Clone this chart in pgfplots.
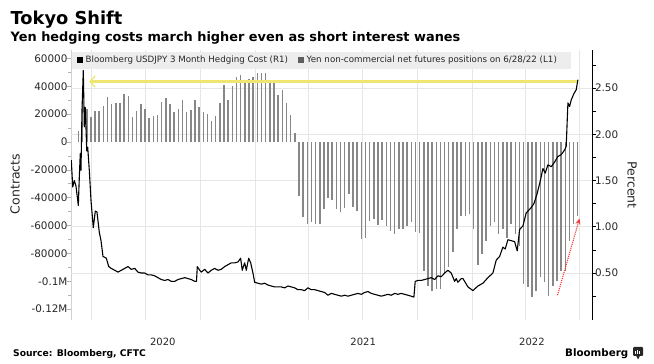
\documentclass[border=0pt]{standalone}
\usepackage{fontspec}
\setmainfont{DejaVu Sans}
\usepackage{pgfplots}
\usepackage{pgfplotstable}
\pgfplotsset{compat=1.18}
\usetikzlibrary{arrows.meta}

\definecolor{bargray}{HTML}{878787}
\definecolor{gridgray}{HTML}{E6E6E6}
\definecolor{legbg}{HTML}{EDEDED}
\definecolor{arrowyellow}{HTML}{EFE672}
\definecolor{arrowred}{HTML}{EE3B3B}

% Yen non-commercial net futures positions (contracts), weekly; day = days since 2020-01-01
\pgfplotstableread{
day val
69 8200
76 32000
83 23500
90 18200
97 22000
104 22000
111 26000
118 32000
125 27000
132 27800
139 27800
146 34600
153 33000
160 17600
167 22400
174 27500
181 23500
188 17200
195 18800
202 19300
209 28700
216 31300
223 27000
230 21200
237 23500
244 29900
251 21900
258 22800
265 29900
272 25200
279 21200
286 20000
293 14800
300 18800
307 28200
314 41200
321 29900
328 40000
335 47000
342 47800
349 43500
356 45400
363 47000
370 49400
377 49700
384 49400
391 44200
398 44000
405 34100
412 37000
419 28200
426 19300
433 6400
440 -38500
447 -53500
454 -58800
461 -57800
468 -58700
475 -59000
482 -47800
489 -40400
496 -41800
503 -47800
510 -50200
517 -47100
524 -37500
531 -46600
538 -49500
545 -69800
552 -68600
559 -56600
566 -55400
573 -59500
580 -56200
587 -60200
594 -63800
601 -66200
608 -62600
615 -62600
622 -60200
629 -57300
636 -64500
643 -65000
650 -92500
657 -103200
664 -106800
671 -105600
678 -105600
685 -94900
692 -89600
699 -79300
706 -62600
713 -53000
720 -53000
727 -51900
734 -62600
741 -88200
748 -80500
755 -71000
762 -60200
769 -57800
776 -66200
783 -62600
790 -68600
797 -59000
804 -66200
811 -75000
818 -102000
825 -104400
832 -111600
839 -106800
846 -97300
853 -100800
860 -110400
867 -103200
874 -99600
881 -92500
888 -92500
895 -71000
902 -59000
909 -53000
}\positions

% Bloomberg USDJPY 3 Month Hedging Cost (percent)
\pgfplotstableread{
day val
57 1.72
59.4 1.43
62.1 1.50
64.9 1.44
68.8 1.23
70.5 1.54
72.1 1.79
73.3 1.61
75.0 2.26
77.2 2.69
78.9 2.08
80.6 2.29
83.0 1.82
84.6 1.86
87.3 1.61
90.2 1.28
94.0 0.99
97.4 1.17
100.2 1.16
104.1 0.94
107.0 0.85
110.3 0.68
115.9 0.66
120.0 0.57
124.3 0.55
130.0 0.53
135.6 0.51
141.1 0.53
146.8 0.55
152.4 0.57
158.0 0.54
163.7 0.55
169.2 0.51
174.8 0.50
180.5 0.50
186.0 0.48
191.6 0.48
197.3 0.47
202.8 0.45
208.4 0.43
214.1 0.42
219.7 0.43
225.2 0.41
230.9 0.41
236.5 0.43
242.0 0.44
247.8 0.45
253.3 0.44
258.9 0.43
264.6 0.41
267.6 0.41
269.0 0.57
273.0 0.53
275.7 0.51
281.4 0.54
286.9 0.50
292.5 0.53
298.2 0.55
303.8 0.53
309.3 0.54
315.0 0.57
320.6 0.59
326.1 0.61
331.9 0.61
337.4 0.62
341.9 0.66
344.6 0.53
348.7 0.61
351.4 0.53
355.4 0.66
358.8 0.61
362.6 0.50
365.5 0.40
371.0 0.39
376.6 0.38
382.3 0.39
387.9 0.37
393.4 0.36
399.1 0.35
404.7 0.35
410.2 0.35
416.0 0.34
421.5 0.36
427.1 0.35
432.8 0.34
438.3 0.32
443.9 0.32
449.6 0.31
455.1 0.34
460.7 0.32
466.4 0.32
472.0 0.31
477.5 0.30
483.2 0.29
488.8 0.26
494.3 0.28
500.1 0.27
505.6 0.26
511.2 0.25
516.9 0.26
522.4 0.25
528.0 0.26
533.7 0.27
539.2 0.28
544.8 0.27
550.5 0.29
556.1 0.30
561.6 0.28
567.3 0.27
572.9 0.26
578.4 0.25
584.2 0.26
589.7 0.27
595.3 0.26
601.0 0.28
606.5 0.27
612.1 0.28
617.8 0.27
623.3 0.26
628.9 0.25
633.4 0.24
635.6 0.41
640.2 0.42
645.7 0.42
651.4 0.43
657.0 0.44
662.5 0.45
668.3 0.43
673.8 0.47
679.4 0.46
685.1 0.50
690.6 0.53
696.2 0.50
701.9 0.41
704.6 0.44
707.4 0.40
713.0 0.44
715.9 0.44
724.3 0.35
732.7 0.31
741.1 0.36
749.5 0.39
757.9 0.45
766.3 0.50
771.9 0.64
777.6 0.68
783.1 0.78
787.0 0.76
791.5 0.86
797.1 0.85
802.8 0.84
807.2 0.74
811.2 0.97
816.8 1.01
822.3 1.15
829.7 1.20
835.3 1.25
840.8 1.36
846.5 1.51
850.4 1.63
854.3 1.58
858.8 1.67
864.4 1.65
870.1 1.70
875.6 1.76
881.2 1.78
886.9 1.83
889.6 1.87
892.5 2.34
895.3 2.30
898.0 2.37
902.6 2.44
906.4 2.48
909.3 2.59
}\hedging

\begin{document}
\begin{tikzpicture}[x=1pt,y=1pt]
\path[use as bounding box] (0,0) rectangle (654,364);

% ---- left axis: contracts (bars)
\begin{axis}[
  at={(71pt,44pt)}, anchor=south west, scale only axis,
  width=521pt, height=270pt,
  xmin=56.5, xmax=933, ymin=-127820, ymax=66070,
  scaled y ticks=false, scaled x ticks=false,
  axis x line*=bottom, axis y line*=left,
  x axis line style={draw=none},
  y axis line style={draw=gray!35},
  xtick={91,182,274,366,456,547,639,731,821,912},
  xticklabels={},
  xtick style={draw=none},
  xmajorgrids,
  extra x ticks={211,548,832},
  extra x tick labels={2020,2021,2022},
  extra x tick style={grid=none},
  xticklabel style={font=\fontsize{10}{12}\selectfont, yshift=-11pt, text=black!85},
  ytick={-120000,-100000,-80000,-60000,-40000,-20000,0,20000,40000,60000},
  yticklabels={-0.12M,-0.1M,-80000,-60000,-40000,-20000,0,20000,40000,60000},
  minor y tick num=1,
  ytick style={gray!60, line width=0.6pt},
  tick align=outside,
  major tick length=3.5pt, minor tick length=2.5pt,
  yticklabel style={font=\fontsize{10.4}{12}\selectfont, text=black!85, xshift=3.5pt},
  extra y ticks={-94099,-60882,-27665,5551,38768},
  extra y tick labels={},
  extra y tick style={ymajorgrids=true, major tick length=0pt},
  major grid style={gridgray, line width=0.6pt},
]
\addplot[ycomb, bargray, line width=1.5pt] table[x=day,y=val] {\positions};
\end{axis}

% legend band
\fill[legbg] (72,295) rectangle (571,312);
\fill[black] (77,300.5) rectangle (83,306.5);
\node[anchor=west, inner sep=0, font=\fontsize{8.7}{10}\selectfont, text=black!85] at (85.5,303.5) {Bloomberg USDJPY 3 Month Hedging Cost (R1)};
\fill[bargray!70!black] (298,300.5) rectangle (304,306.5);
\node[anchor=west, inner sep=0, font=\fontsize{8.7}{10}\selectfont, text=black!85] at (306.5,303.5) {Yen non-commercial net futures positions on 6/28/22 (L1)};

% ---- right axis: percent (line)
\begin{axis}[
  at={(71pt,44pt)}, anchor=south west, scale only axis,
  width=521pt, height=270pt,
  xmin=56.5, xmax=933, ymin=-0.0076, ymax=2.911,
  scaled y ticks=false,
  axis x line=none, axis y line*=right,
  y axis line style={black, line width=0.8pt},
  ytick={0.5,1,1.5,2,2.5},
  yticklabels={0.50,1.00,1.50,2.00,2.50},
  minor ytick={0.25,0.75,1.25,1.75,2.25,2.75},
  ytick style={black, line width=0.7pt},
  tick align=outside,
  major tick length=4pt, minor tick length=4pt,
  yticklabel style={font=\fontsize{10.4}{12}\selectfont, text=black!85, xshift=-4.5pt},
]
\addplot[color=arrowyellow, line width=2.2pt, mark=none] coordinates {(90,2.57) (909,2.57)};
\addplot[color=arrowyellow, line width=1.4pt, mark=none, -{Straight Barb[length=5pt,width=11pt]}] coordinates {(100,2.57) (87,2.57)};
\addplot[black, line width=1.1pt, line join=round] table[x=day,y=val] {\hedging};
\addplot[color=arrowred, densely dotted, line width=1.1pt, -{Stealth[length=6pt,width=5pt]}] coordinates {(875,0.26) (912,1.09)};
\end{axis}

% titles and labels
\node[anchor=base west, inner sep=0, font=\bfseries\fontsize{17.8}{20}\selectfont] at (10.5,339) {Tokyo Shift};
\node[anchor=base west, inner sep=0, font=\bfseries\fontsize{12.9}{14}\selectfont] at (10.5,322) {Yen hedging costs march higher even as short interest wanes};
\node[rotate=90, inner sep=0, font=\fontsize{12.5}{14}\selectfont, text=black!85] at (15,180) {Contracts};
\node[rotate=-90, inner sep=0, font=\fontsize{12.5}{14}\selectfont, text=black!85] at (632,179) {Percent};
\node[anchor=base west, inner sep=0, font=\bfseries\fontsize{9.2}{10}\selectfont] at (13,7.5) {Source: Bloomberg, CFTC};
\node[anchor=base west, inner sep=0, font=\bfseries\fontsize{10.3}{12}\selectfont] at (565,7.3) {Bloomberg};
\fill[black!85, rounded corners=1pt] (633,8) rectangle (643,17);
\fill[black!85] (636,8.5) -- (638,4.5) -- (640,8.5) -- cycle;
\fill[white] (635,10) rectangle (636,12.5);
\fill[white] (637.2,10) rectangle (638.2,14);
\fill[white] (639.4,10) rectangle (640.4,13);
\end{tikzpicture}
\end{document}
